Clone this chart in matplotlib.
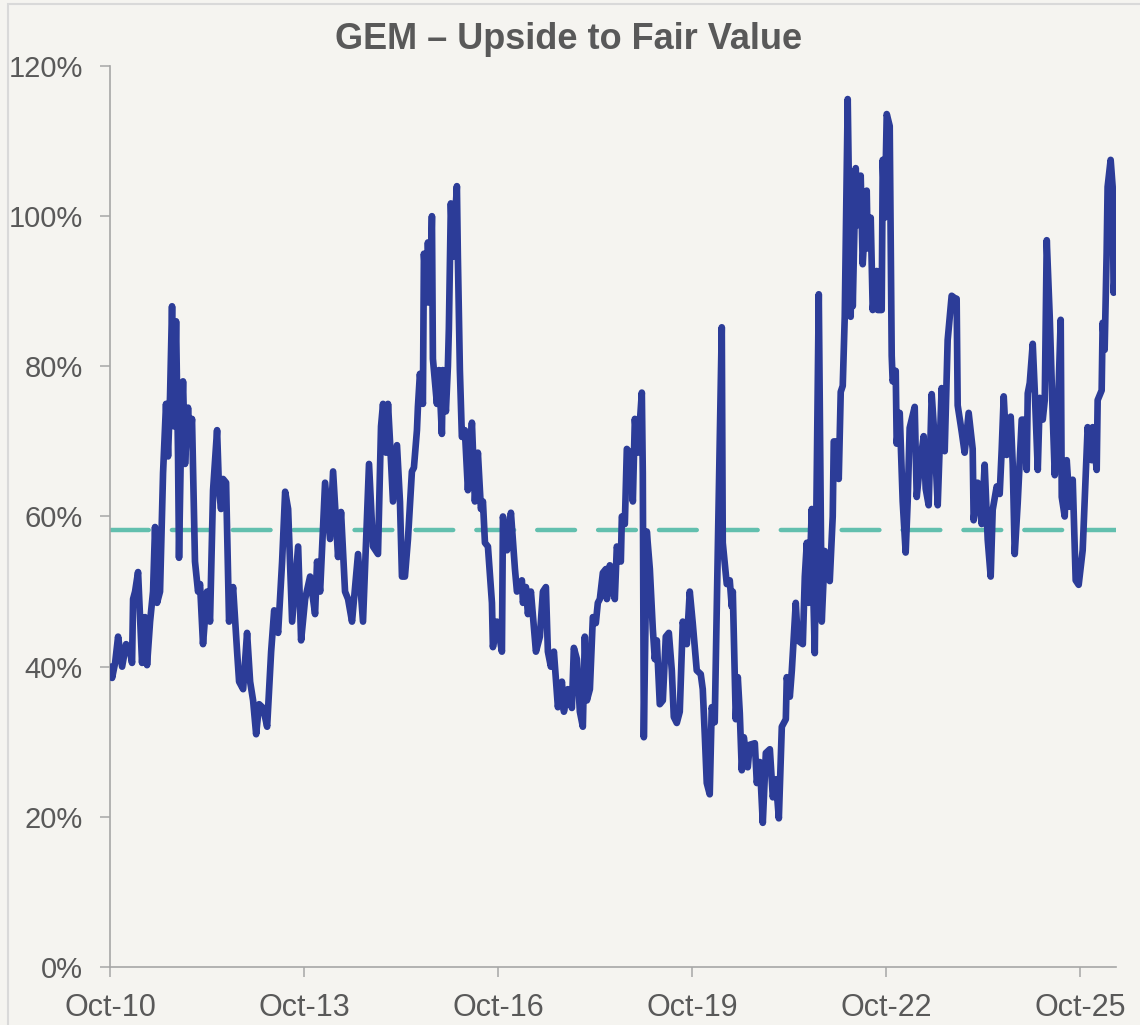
import matplotlib
matplotlib.use("Agg")
import matplotlib.pyplot as plt
import matplotlib.dates as mdates
from matplotlib.patches import Rectangle
from matplotlib.ticker import FuncFormatter
import pandas as pd

# series (decimal years, upside in %)
years = [
    2010.750, 2010.773, 2010.820, 2010.866, 2010.928, 2010.990, 2011.051, 2011.082, 2011.098, 2011.129,
    2011.175, 2011.237, 2011.283, 2011.314, 2011.361, 2011.407, 2011.438, 2011.469, 2011.515, 2011.562,
    2011.608, 2011.639, 2011.670, 2011.701, 2011.732, 2011.763, 2011.794, 2011.809, 2011.840, 2011.871,
    2011.902, 2011.948, 2011.979, 2012.010, 2012.056, 2012.103, 2012.134, 2012.180, 2012.242, 2012.288,
    2012.335, 2012.397, 2012.427, 2012.458, 2012.489, 2012.536, 2012.582, 2012.644, 2012.706, 2012.737,
    2012.799, 2012.860, 2012.907, 2012.953, 2013.000, 2013.046, 2013.108, 2013.170, 2013.232, 2013.279,
    2013.340, 2013.402, 2013.449, 2013.495, 2013.557, 2013.650, 2013.696, 2013.758, 2013.835, 2013.912,
    2013.943, 2013.990, 2014.067, 2014.144, 2014.191, 2014.268, 2014.314, 2014.376, 2014.423, 2014.484,
    2014.577, 2014.654, 2014.747, 2014.809, 2014.886, 2014.933, 2014.964, 2015.010, 2015.041, 2015.072,
    2015.118, 2015.180, 2015.226, 2015.257, 2015.303, 2015.350, 2015.411, 2015.442, 2015.489, 2015.504,
    2015.535, 2015.581, 2015.597, 2015.643, 2015.659, 2015.690, 2015.721, 2015.736, 2015.798, 2015.829,
    2015.875, 2015.890, 2015.937, 2015.968, 2015.983, 2016.014, 2016.045, 2016.107, 2016.122, 2016.153,
    2016.184, 2016.230, 2016.277, 2016.339, 2016.385, 2016.431, 2016.478, 2016.509, 2016.540, 2016.586,
    2016.648, 2016.663, 2016.725, 2016.802, 2016.818, 2016.880, 2016.941, 2017.003, 2017.034, 2017.111,
    2017.127, 2017.173, 2017.204, 2017.250, 2017.328, 2017.389, 2017.436, 2017.482, 2017.513, 2017.559,
    2017.606, 2017.668, 2017.730, 2017.761, 2017.822, 2017.884, 2017.915, 2017.962, 2018.008, 2018.054,
    2018.085, 2018.116, 2018.163, 2018.209, 2018.255, 2018.286, 2018.317, 2018.364, 2018.410, 2018.426,
    2018.472, 2018.518, 2018.549, 2018.580, 2018.642, 2018.658, 2018.704, 2018.735, 2018.781, 2018.828,
    2018.859, 2018.905, 2018.967, 2018.982, 2018.998, 2019.044, 2019.091, 2019.137, 2019.168, 2019.199,
    2019.245, 2019.292, 2019.338, 2019.385, 2019.431, 2019.462, 2019.508, 2019.554, 2019.601, 2019.663,
    2019.709, 2019.755, 2019.817, 2019.879, 2019.910, 2019.941, 2019.972, 2020.018, 2020.049, 2020.095,
    2020.204, 2020.219, 2020.281, 2020.327, 2020.358, 2020.374, 2020.420, 2020.451, 2020.482, 2020.513,
    2020.544, 2020.605, 2020.636, 2020.714, 2020.745, 2020.791, 2020.837, 2020.884, 2020.946, 2020.992,
    2021.038, 2021.085, 2021.131, 2021.193, 2021.208, 2021.255, 2021.286, 2021.347, 2021.378, 2021.456,
    2021.487, 2021.518, 2021.548, 2021.595, 2021.610, 2021.641, 2021.703, 2021.749, 2021.796, 2021.827,
    2021.873, 2021.919, 2021.935, 2021.981, 2022.012, 2022.043, 2022.074, 2022.105, 2022.151, 2022.197,
    2022.213, 2022.229, 2022.275, 2022.306, 2022.352, 2022.383, 2022.445, 2022.461, 2022.507, 2022.538,
    2022.600, 2022.615, 2022.677, 2022.693, 2022.724, 2022.755, 2022.801, 2022.832, 2022.847, 2022.894,
    2022.909, 2022.956, 2023.002, 2023.048, 2023.079, 2023.110, 2023.188, 2023.219, 2023.265, 2023.327,
    2023.358, 2023.404, 2023.451, 2023.497, 2023.544, 2023.605, 2023.652, 2023.698, 2023.760, 2023.806,
    2023.837, 2023.853, 2023.915, 2023.961, 2024.023, 2024.085, 2024.100, 2024.162, 2024.224, 2024.270,
    2024.317, 2024.363, 2024.394, 2024.456, 2024.502, 2024.533, 2024.564, 2024.610, 2024.672, 2024.703,
    2024.734, 2024.780, 2024.842, 2024.873, 2024.919, 2024.935, 2024.966, 2025.012, 2025.043, 2025.090,
    2025.121, 2025.167, 2025.198, 2025.229, 2025.275, 2025.322, 2025.353, 2025.399, 2025.445, 2025.461,
    2025.507, 2025.538, 2025.584, 2025.631, 2025.677, 2025.723, 2025.785, 2025.816, 2025.862, 2025.924,
    2025.940, 2026.002, 2026.017, 2026.079, 2026.094, 2026.125, 2026.156, 2026.171, 2026.218, 2026.249,
    2026.264, 2026.311,
]

upside = [
    40.0, 38.5, 40.5, 44.0, 40.0, 43.0, 42.0, 40.5, 49.0, 50.0,
    52.6, 40.5, 46.6, 40.2, 46.0, 50.0, 58.6, 48.5, 50.0, 65.8,
    75.0, 68.0, 76.0, 88.0, 72.0, 86.0, 68.0, 54.5, 70.0, 78.0,
    67.0, 74.5, 70.0, 73.0, 54.0, 50.0, 51.0, 43.0, 50.0, 46.0,
    63.5, 71.5, 63.5, 61.0, 65.0, 64.5, 46.0, 50.6, 42.0, 38.0,
    37.0, 44.5, 38.0, 35.5, 31.0, 35.0, 34.5, 32.0, 42.0, 47.5,
    44.5, 54.0, 63.3, 61.0, 46.0, 56.0, 43.5, 49.0, 52.0, 47.0,
    54.0, 50.0, 64.5, 57.0, 66.0, 54.6, 60.6, 50.0, 49.0, 46.0,
    55.0, 46.0, 67.0, 56.0, 55.0, 72.0, 75.0, 68.5, 75.0, 70.0,
    62.0, 69.5, 62.0, 52.0, 52.0, 57.0, 66.0, 66.5, 71.5, 74.6,
    79.0, 75.0, 95.0, 88.5, 96.5, 88.5, 100.0, 81.0, 75.0, 79.5,
    71.0, 79.5, 74.0, 80.0, 85.0, 101.7, 94.6, 104.0, 94.6, 79.5,
    70.6, 71.5, 63.5, 72.5, 62.0, 68.5, 61.0, 62.0, 56.5, 56.0,
    48.5, 42.6, 46.0, 42.0, 60.0, 55.5, 60.5, 53.0, 50.0, 51.5,
    48.5, 50.6, 47.0, 50.0, 42.0, 44.0, 50.0, 50.6, 42.0, 40.0,
    42.0, 34.6, 38.0, 34.0, 37.0, 34.5, 42.5, 41.0, 34.0, 32.0,
    44.0, 35.5, 37.0, 46.6, 45.8, 48.5, 49.0, 52.5, 53.0, 49.0,
    53.5, 50.0, 49.0, 56.0, 54.0, 60.0, 59.0, 69.0, 68.5, 62.0,
    73.0, 68.5, 76.5, 65.8, 30.6, 58.0, 53.0, 45.0, 41.0, 43.5,
    35.0, 35.5, 44.0, 44.5, 39.5, 33.3, 32.5, 34.0, 46.0, 43.0,
    50.0, 45.8, 39.5, 39.0, 37.0, 31.0, 24.5, 23.0, 34.6, 32.6,
    85.2, 56.5, 51.0, 51.5, 48.0, 50.0, 33.0, 38.6, 33.8, 26.2,
    30.6, 26.6, 29.6, 29.8, 24.5, 27.3, 19.2, 28.5, 29.0, 22.6,
    25.0, 19.8, 32.0, 33.0, 38.6, 36.0, 39.5, 48.5, 43.5, 43.0,
    52.0, 56.5, 48.5, 61.0, 52.5, 41.8, 89.6, 46.0, 55.4, 54.0,
    51.4, 60.0, 70.0, 70.0, 65.0, 76.6, 77.4, 86.6, 115.6, 86.6,
    105.0, 88.0, 106.4, 98.8, 105.4, 93.6, 103.4, 95.7, 99.8, 87.5,
    92.7, 87.5, 87.5, 107.5, 99.8, 113.6, 112.0, 81.4, 78.0, 79.4,
    69.7, 73.8, 62.0, 55.2, 62.0, 71.8, 74.6, 62.6, 66.6, 70.7,
    63.7, 61.5, 76.3, 70.2, 61.5, 77.1, 68.7, 83.5, 89.4, 89.1,
    89.0, 74.8, 71.3, 68.5, 73.8, 69.0, 59.5, 64.5, 59.0, 66.9,
    56.9, 52.0, 60.9, 64.0, 63.0, 68.9, 76.0, 68.2, 73.3, 67.0,
    55.0, 61.8, 72.9, 72.9, 66.2, 76.4, 77.8, 83.0, 76.8, 66.2,
    75.8, 72.9, 75.5, 96.8, 86.6, 73.3, 65.5, 73.3, 86.2, 62.6,
    60.0, 67.5, 61.3, 64.9, 51.5, 50.9, 55.5, 62.2, 71.9, 67.5,
    71.9, 66.2, 75.5, 76.8, 85.8, 82.2, 95.1, 103.9, 107.5, 103.9,
    89.8, 95.5,
]

average = 58.2
tick_years = [2010, 2013, 2016, 2019, 2022, 2025]
title = "GEM \u2013 Upside to Fair Value"

bg = "#f5f4f0"
line_col = "#2c3c98"
avg_col = "#62bfae"
text_col = "#595959"
axis_col = "#a6a6a6"


def to_date(t):
    y = int(t)
    start = pd.Timestamp(y, 1, 1)
    return start + (pd.Timestamp(y + 1, 1, 1) - start) * (t - y)


dates = [to_date(t) for t in years]
ticks = [pd.Timestamp(y, 10, 1) for y in tick_years]

plt.rcParams["font.family"] = ["Liberation Sans", "DejaVu Sans"]

fig = plt.figure(figsize=(11.4, 10.25), dpi=100, facecolor=bg)
ax = fig.add_axes([0.0969, 0.0566, 0.882, 0.879])
ax.set_facecolor(bg)

# light frame round the chart (top and left edges visible)
fig.patches.append(Rectangle((8 / 1140, -0.1), 1.2, 0.1 + (1025 - 3.5) / 1025,
                             transform=fig.transFigure, fill=False,
                             edgecolor="#d9d9d9", linewidth=1.5))

ax.plot([dates[0], dates[-1]], [average, average], color=avg_col, linewidth=3.2,
        dashes=(8.5, 5.2), dash_capstyle="round", zorder=2)
ax.plot(dates, upside, color=line_col, linewidth=4.8,
        solid_joinstyle="round", solid_capstyle="round", zorder=3)

ax.set_ylim(0, 120)
ax.set_yticks(range(0, 121, 20))
ax.yaxis.set_major_formatter(FuncFormatter(lambda v, p: f"{v:.0f}%"))
ax.set_xlim(dates[0], to_date(2026.30))
ax.set_xticks(ticks)
ax.xaxis.set_major_formatter(mdates.DateFormatter("%b-%y"))

for s in ["top", "right"]:
    ax.spines[s].set_visible(False)
for s in ["left", "bottom"]:
    ax.spines[s].set_color(axis_col)
    ax.spines[s].set_linewidth(1.2)

ax.tick_params(axis="both", colors=axis_col, labelcolor=text_col, labelsize=22,
               length=7, width=1.1, direction="out")
ax.tick_params(axis="y", labelsize=21, pad=13)
ax.tick_params(axis="x", pad=12)

fig.text(569 / 1140, 0.961, title, ha="center", va="center", fontsize=26,
         fontweight="bold", color=text_col)

fig.savefig("out.png", dpi=100, facecolor=bg)
